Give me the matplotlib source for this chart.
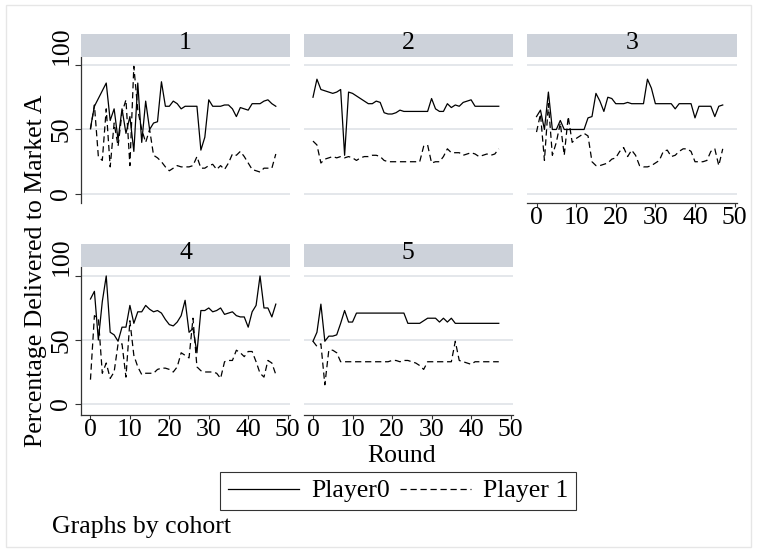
import matplotlib
matplotlib.use('Agg')
import matplotlib.pyplot as plt
import numpy as np
from matplotlib.lines import Line2D
from matplotlib.patches import Rectangle

plt.rcParams['font.family'] = ['Liberation Serif', 'DejaVu Serif']

# data: percentage delivered to market A, by round
rounds = np.arange(48)
cohorts = ['1', '2', '3', '4', '5']
y_ticks = [0, 50, 100]
x_ticks = [0, 10, 20, 30, 40, 50]

p0_c1 = [51, 68, 74, 80, 86, 57, 66, 42, 66, 47, 60, 33, 86, 40, 72, 50, 55, 56, 87, 68,
         68, 72, 70, 66, 68, 68, 68, 68, 34, 44, 73, 68, 68, 68, 69, 69, 66, 60, 67, 66,
         65, 70, 70, 70, 72, 73, 70, 68]
p1_c1 = [50, 69, 29, 26, 66, 21, 55, 37, 63, 73, 22, 99, 65, 50, 40, 50, 30, 28, 25, 21,
         18, 20, 22, 21, 21, 21, 22, 29, 20, 20, 22, 23, 19, 22, 19, 24, 31, 30, 33, 29,
         24, 19, 18, 17, 20, 20, 20, 31]

p0_c2 = [75, 89, 81, 80, 79, 78, 79, 81, 30, 79, 78, 76, 74, 72, 70, 70, 72, 71, 63, 62,
         62, 63, 65, 64, 64, 64, 64, 64, 64, 64, 74, 66, 64, 64, 70, 67, 69, 68, 71, 72,
         73, 68, 68, 68, 68, 68, 68, 68]
p1_c2 = [41, 38, 24, 27, 28, 29, 28, 29, 28, 29, 28, 26, 28, 29, 29, 30, 30, 29, 26, 25,
         25, 25, 25, 25, 25, 25, 25, 25, 37, 38, 24, 25, 25, 29, 35, 32, 32, 32, 30, 31,
         32, 31, 29, 30, 31, 30, 31, 35]

p0_c3 = [60, 65, 50, 79, 50, 50, 57, 50, 50, 50, 50, 50, 50, 59, 60, 78, 72, 64, 75, 74,
         70, 70, 70, 71, 70, 70, 70, 70, 89, 82, 70, 70, 70, 70, 70, 66, 70, 70, 70, 70,
         59, 68, 68, 68, 68, 60, 68, 69]
p1_c3 = [48, 62, 26, 70, 30, 40, 55, 30, 60, 40, 43, 45, 47, 45, 25, 22, 22, 23, 24, 27,
         28, 33, 36, 29, 34, 30, 22, 21, 21, 22, 24, 26, 33, 34, 29, 30, 33, 35, 35, 33,
         25, 25, 25, 26, 33, 35, 22, 35]

p0_c4 = [82, 88, 50, 80, 100, 56, 54, 49, 60, 60, 77, 63, 72, 72, 77, 74, 72, 73, 71, 66,
         62, 61, 64, 69, 81, 56, 59, 40, 73, 73, 75, 72, 73, 75, 70, 71, 72, 69, 68, 68,
         60, 72, 77, 100, 75, 75, 68, 78]
p1_c4 = [19, 69, 67, 24, 32, 20, 25, 47, 47, 21, 65, 38, 29, 23, 24, 24, 24, 27, 28, 28,
         27, 25, 29, 40, 38, 36, 67, 29, 26, 25, 25, 25, 24, 20, 33, 34, 34, 42, 40, 37,
         41, 41, 33, 24, 21, 34, 32, 23]

p0_c5 = [49, 56, 78, 49, 53, 53, 54, 63, 73, 64, 64, 71, 71, 71, 71, 71, 71, 71, 71, 71,
         71, 71, 71, 71, 63, 63, 63, 63, 65, 67, 67, 67, 64, 67, 64, 67, 63, 63, 63, 63,
         63, 63, 63, 63, 63, 63, 63, 63]
p1_c5 = [49, 45, 47, 15, 42, 42, 40, 33, 33, 33, 33, 33, 33, 33, 33, 33, 33, 33, 33, 33,
         34, 34, 33, 34, 34, 33, 32, 30, 27, 33, 33, 33, 33, 33, 33, 33, 49, 34, 33, 32,
         31, 33, 33, 33, 33, 33, 33, 33]

player0 = [p0_c1, p0_c2, p0_c3, p0_c4, p0_c5]
player1 = [p1_c1, p1_c2, p1_c3, p1_c4, p1_c5]

W, H = 757, 552
fig = plt.figure(figsize=(W / 100, H / 100), dpi=100)
fig.patch.set_facecolor('white')


def box(x0, y0, x1, y1):
    # pixel box (from top left) -> figure fraction
    return [x0 / W, 1 - y1 / H, (x1 - x0) / W, (y1 - y0) / H]


fs = 18.5
strip_col = '#cdd2da'
grid_col = '#e2e5e9'
axis_col = '#333333'
dash = (0, (5, 3))

col_x = [(81, 290), (303.5, 513), (527, 737)]
# strip top, plot top, plot bottom, ylim
rows = [(34, 57, 203, (-7, 106.2)), (244, 267, 415, (-8.6, 107))]

for i in range(5):
    r, c = divmod(i, 3)
    x0, x1 = col_x[c]
    st, pt, pb, ylim = rows[r]

    ax = fig.add_axes(box(x0, pt, x1, pb))
    for y in y_ticks:
        ax.axhline(y, color=grid_col, lw=1.3, zorder=0)
    ax.plot(rounds, player0[i], color='black', lw=0.9)
    ax.plot(rounds, player1[i], color='black', lw=0.9, ls=dash)
    ax.set_xlim(-2.4, 50.6)
    ax.set_ylim(*ylim)
    ax.set_xticks(x_ticks)
    ax.set_yticks(y_ticks)
    ax.set_yticklabels([str(v) for v in y_ticks])
    for s in ax.spines.values():
        s.set_visible(False)

    if c == 0:
        ax.spines['left'].set_visible(True)
        ax.spines['left'].set_color(axis_col)
        ax.spines['left'].set_linewidth(0.9)
        ax.tick_params(axis='y', length=4.3, width=0.8, color=axis_col, pad=2,
                       labelsize=fs, labelrotation=90)
        for lab in ax.get_yticklabels():
            # the 100 label sits above its tick in the original
            lab.set_va('bottom' if lab.get_text() == '100' else 'center')
    else:
        ax.tick_params(axis='y', left=False, labelleft=False)

    if i >= 2:
        ax.spines['bottom'].set_visible(True)
        ax.spines['bottom'].set_color(axis_col)
        ax.spines['bottom'].set_linewidth(0.9)
        ax.tick_params(axis='x', length=3, width=0.8, color=axis_col, pad=0,
                       labelsize=fs)
    else:
        ax.tick_params(axis='x', bottom=False, labelbottom=False)

    # cohort header strip
    sax = fig.add_axes(box(x0, st, x1, pt))
    sax.set_facecolor(strip_col)
    sax.set_xticks([])
    sax.set_yticks([])
    for s in sax.spines.values():
        s.set_visible(False)
    sax.text(0.5, 0.36, cohorts[i], ha='center', va='baseline', fontsize=fs,
             transform=sax.transAxes)

fig.text(36 / W, 1 - 271 / H, 'Percentage Delivered to Market A', rotation=90,
         ha='center', va='center', fontsize=fs)
fig.text(402 / W, 1 - 462 / H, 'Round', ha='center', va='baseline', fontsize=fs)

handles = [Line2D([], [], color='black', lw=0.9),
           Line2D([], [], color='black', lw=0.9, ls=dash)]
leg = fig.legend(handles, ['Player0', 'Player 1'], loc='center',
                 bbox_to_anchor=(398 / W, 1 - 491 / H), ncol=2, frameon=True,
                 fancybox=False, edgecolor='black', handlelength=2.76,
                 handletextpad=0.47, columnspacing=0.4, borderpad=0.3,
                 borderaxespad=0, fontsize=fs)
leg.get_frame().set_linewidth(0.8)

fig.text(52 / W, 1 - 533 / H, 'Graphs by cohort', ha='left', va='baseline', fontsize=fs)

# light outer frame of the graph region
fig.add_artist(Rectangle((6 / W, 5 / H), (W - 12) / W, (H - 10) / H,
                         transform=fig.transFigure, fill=False,
                         edgecolor='#e6e6e6', lw=1))

fig.savefig('out.png', dpi=100)
